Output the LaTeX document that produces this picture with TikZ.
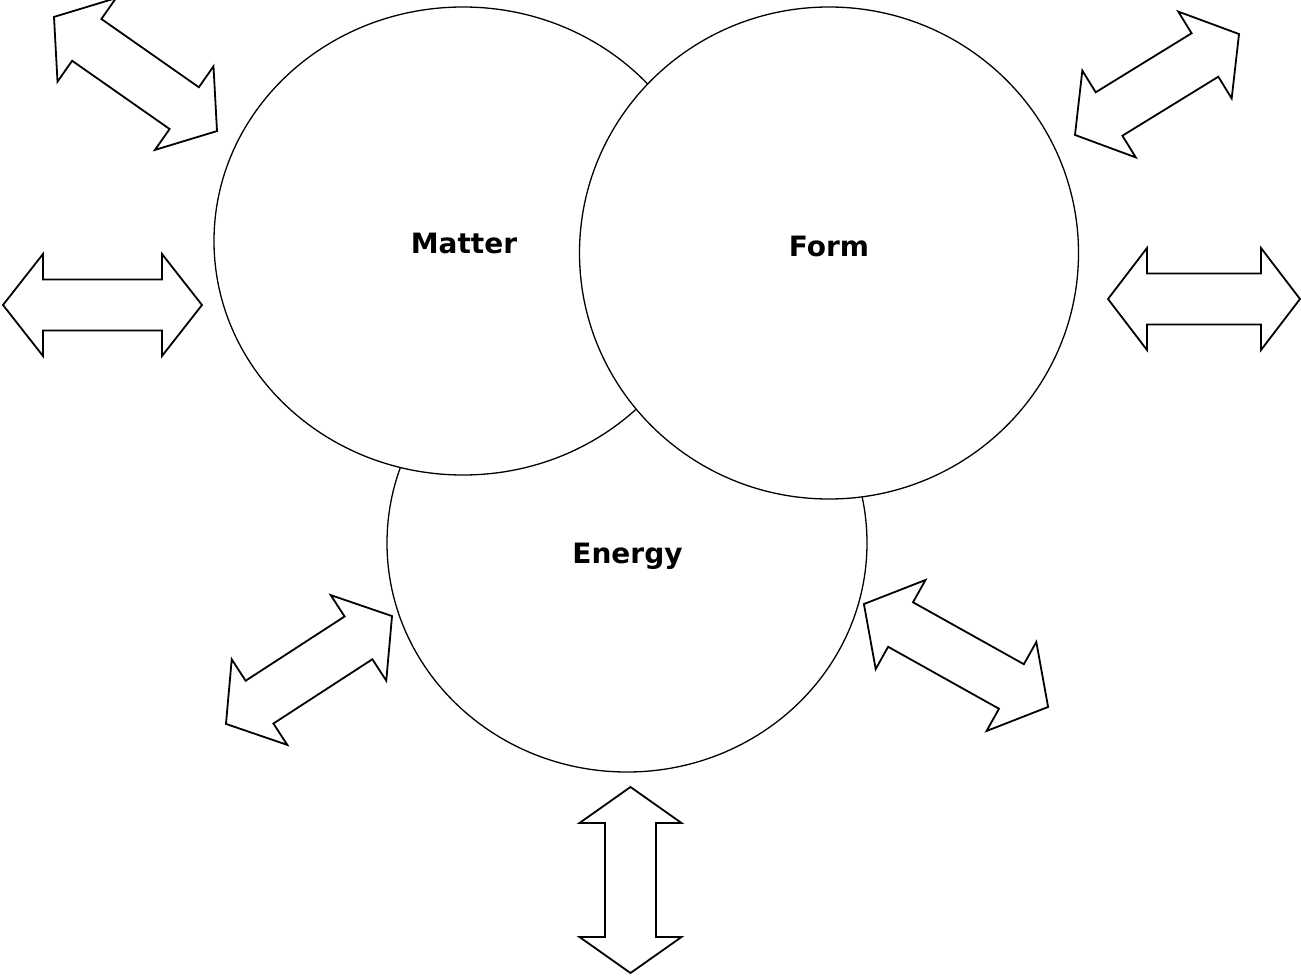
\documentclass[tikz,border=0pt]{standalone}
\usepackage{fontspec}
\setmainfont{DejaVu Sans}
\usetikzlibrary{shapes.geometric}

% Outlined double-headed block arrow: centre, angle, half length, head length
\newcommand\twowayarrow[4]{%
  \begin{scope}[shift={#1}, rotate=#2]
    \draw[blockarrow] (-#3,0) -- ({-#3+#4},51) -- ({-#3+#4},25.5)
      -- ({#3-#4},25.5) -- ({#3-#4},51) -- (#3,0) -- ({#3-#4},-51)
      -- ({#3-#4},-25.5) -- ({-#3+#4},-25.5) -- ({-#3+#4},-51) -- cycle;
  \end{scope}}

\begin{document}
\begin{tikzpicture}[x=1pt,y=-1pt,
  sphere/.style={draw=black, line width=1.3pt, fill=white, ellipse, inner sep=0pt},
  caption/.style={font=\bfseries\fontsize{28}{30}\selectfont, anchor=base, inner sep=0pt},
  blockarrow/.style={draw=black, line width=1.8pt, fill=white, line join=miter}]
\useasboundingbox[fill=white] (0,0) rectangle (1301,976);

% the three overlapping circles, back to front
\node[sphere, minimum width=480pt, minimum height=458pt] (energy) at (627,543) {};
\node[sphere, minimum width=498pt, minimum height=468pt] (matter) at (463,241) {};
\node[sphere, minimum width=499pt, minimum height=492pt] (form) at (829,253) {};

\node[caption] (matterlabel) at (464,254) {Matter};
\node[caption] (formlabel) at (829,257) {Form};
\node[caption] (energylabel) at (627.5,563) {Energy};

% exchange arrows around the circles
\twowayarrow{(135.5,74)}{-35}{99.5}{40}
\twowayarrow{(102.5,305)}{0}{99.5}{40}
\twowayarrow{(1157,84.5)}{31.6}{96.3}{40}
\twowayarrow{(1204,299)}{0}{96}{39}
\twowayarrow{(309,670)}{33}{99}{40}
\twowayarrow{(956,655.5)}{-29.2}{105.5}{42}
\twowayarrow{(630.5,880)}{90}{93}{36}
\end{tikzpicture}
\end{document}
